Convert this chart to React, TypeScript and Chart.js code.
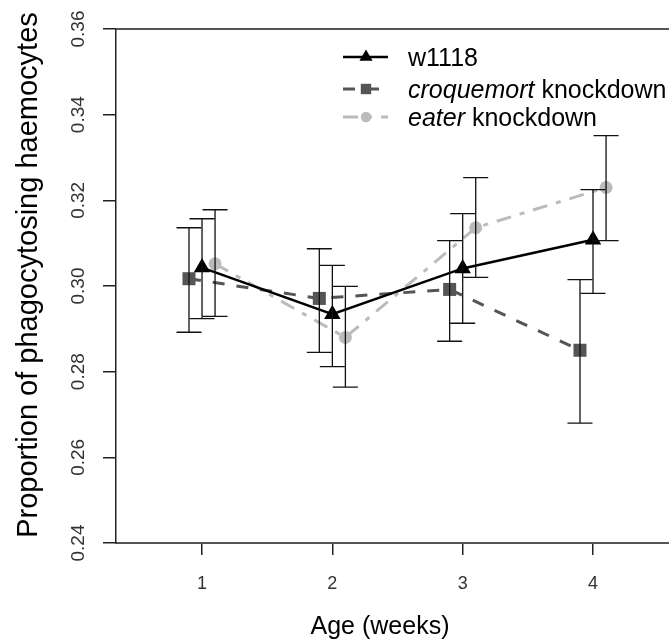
import React, { useEffect, useRef } from 'react';
import { Chart, registerables } from 'chart.js';

Chart.register(...registerables);

// ---- data ----
const weeks = [1, 2, 3, 4];
const xTickLabels = ['1', '2', '3', '4'];
const yTickValues = [0.24, 0.26, 0.28, 0.3, 0.32, 0.34, 0.36];
const yTickLabels = ['0.24', '0.26', '0.28', '0.30', '0.32', '0.34', '0.36'];

const w1118Mean = [0.3043, 0.2934, 0.3041, 0.3108];
const w1118Lo = [0.2924, 0.2812, 0.2913, 0.2983];
const w1118Hi = [0.3157, 0.3048, 0.3169, 0.3225];

const croqMean = [0.3017, 0.2971, 0.2992, 0.2850];
const croqLo = [0.2892, 0.2845, 0.2871, 0.2680];
const croqHi = [0.3136, 0.3087, 0.3106, 0.3015];

const eaterMean = [0.3052, 0.2880, 0.3136, 0.3230];
const eaterLo = [0.2929, 0.2764, 0.3020, 0.3106];
const eaterHi = [0.3178, 0.2999, 0.3253, 0.3351];

const xOffsets = [0, -0.1, 0.1];
const legendItalic = ['', 'croquemort', 'eater'];
const legendPlain = ['w1118', ' knockdown', ' knockdown'];

const xTitle = 'Age (weeks)';
const yTitle = 'Proportion of phagocytosing haemocytes';

const FONT = "'Liberation Sans', Arial, sans-serif";

const styles = [
  { color: '#000000', width: 2.5, dash: [] as number[], point: 'triangle', radius: 9.5 },
  { color: '#555555', width: 3, dash: [12, 12], point: 'rect', radius: 9.2 },
  { color: '#bbbbbb', width: 3, dash: [15, 9, 5, 9], point: 'circle', radius: 6.5 },
];

const series = [
  { mean: w1118Mean, lo: w1118Lo, hi: w1118Hi },
  { mean: croqMean, lo: croqLo, hi: croqHi },
  { mean: eaterMean, lo: eaterLo, hi: eaterHi },
];

function drawMarker(ctx: CanvasRenderingContext2D, kind: string, x: number, y: number, r: number, color: string) {
  ctx.save();
  ctx.fillStyle = color;
  ctx.beginPath();
  if (kind === 'triangle') {
    const a = -Math.PI / 2;
    for (let k = 0; k < 3; k++) {
      const ang = a + (k * 2 * Math.PI) / 3;
      const px = x + r * Math.cos(ang);
      const py = y + r * Math.sin(ang);
      if (k === 0) ctx.moveTo(px, py);
      else ctx.lineTo(px, py);
    }
    ctx.closePath();
  } else if (kind === 'rect') {
    const s = r * Math.SQRT1_2;
    ctx.rect(x - s, y - s, 2 * s, 2 * s);
  } else {
    ctx.arc(x, y, r, 0, Math.PI * 2);
  }
  ctx.fill();
  ctx.restore();
}

const framePlugin = {
  id: 'frameAndText',
  afterDraw(chart: any) {
    const { ctx, chartArea } = chart;
    ctx.save();
    // top frame line
    ctx.strokeStyle = '#555555';
    ctx.lineWidth = 2;
    ctx.beginPath();
    ctx.moveTo(chartArea.left, chartArea.top);
    ctx.lineTo(chartArea.right, chartArea.top);
    ctx.stroke();

    // axis titles
    ctx.fillStyle = '#000000';
    ctx.font = `25px ${FONT}`;
    ctx.textAlign = 'center';
    ctx.textBaseline = 'alphabetic';
    ctx.fillText(xTitle, 380, 634);

    ctx.save();
    ctx.translate(37, 275);
    ctx.rotate(-Math.PI / 2);
    ctx.font = `29px ${FONT}`;
    ctx.textAlign = 'center';
    ctx.textBaseline = 'alphabetic';
    ctx.fillText(yTitle, 0, 0);
    ctx.restore();

    // legend
    const rowY = [57, 89, 117];
    const x0 = 343;
    const x1 = 388;
    const xm = 366;
    const tx = 408;
    for (let i = 0; i < 3; i++) {
      const st = styles[i];
      ctx.save();
      ctx.strokeStyle = st.color;
      ctx.lineWidth = st.width;
      ctx.setLineDash(st.dash);
      ctx.beginPath();
      ctx.moveTo(x0, rowY[i]);
      ctx.lineTo(x1, rowY[i]);
      ctx.stroke();
      ctx.restore();
      drawMarker(ctx, st.point, xm, rowY[i], st.radius * 0.8, st.color);
      ctx.fillStyle = '#000000';
      ctx.textAlign = 'left';
      ctx.textBaseline = 'middle';
      let cx = tx;
      const ty = rowY[i] + 2;
      if (legendItalic[i]) {
        ctx.font = `italic 25px ${FONT}`;
        ctx.fillText(legendItalic[i], cx, ty);
        cx += ctx.measureText(legendItalic[i]).width;
      }
      ctx.font = `25px ${FONT}`;
      ctx.fillText(legendPlain[i], cx, ty);
    }
    ctx.restore();
  },
};

const errorBarPlugin = {
  id: 'errorBars',
  afterDatasetsDraw(chart: any) {
    const { ctx } = chart;
    const xs = chart.scales.x;
    const ys = chart.scales.y;
    ctx.save();
    ctx.strokeStyle = '#111111';
    ctx.lineWidth = 1.3;
    series.forEach((s, si) => {
      s.lo.forEach((lo, i) => {
        const px = xs.getPixelForValue(weeks[i] + xOffsets[si]);
        const yl = ys.getPixelForValue(lo);
        const yh = ys.getPixelForValue(s.hi[i]);
        const cap = 12.5;
        ctx.beginPath();
        ctx.moveTo(px, yl);
        ctx.lineTo(px, yh);
        ctx.moveTo(px - cap, yl);
        ctx.lineTo(px + cap, yl);
        ctx.moveTo(px - cap, yh);
        ctx.lineTo(px + cap, yh);
        ctx.stroke();
      });
    });
    ctx.restore();
  },
};

export default function App() {
  const ref = useRef<HTMLCanvasElement | null>(null);

  useEffect(() => {
    if (!ref.current) return;
    const datasets = series.map((s, si) => ({
      label: legendItalic[si] + legendPlain[si],
      data: s.mean.map((v, i) => ({ x: weeks[i] + xOffsets[si], y: v })),
      borderColor: styles[si].color,
      backgroundColor: styles[si].color,
      borderWidth: styles[si].width,
      borderDash: styles[si].dash,
      pointStyle: styles[si].point,
      pointRadius: styles[si].radius,
      pointBorderWidth: 0,
      pointBackgroundColor: styles[si].color,
      pointBorderColor: styles[si].color,
      tension: 0,
      fill: false,
    }));

    const chart = new Chart(ref.current, {
      type: 'line',
      data: { datasets },
      options: {
        responsive: false,
        animation: false,
        layout: { autoPadding: false, padding: { top: 29, right: 0, left: 0, bottom: 0 } },
        plugins: {
          legend: { display: false },
          tooltip: { enabled: false },
          title: { display: false },
        },
        scales: {
          x: {
            type: 'linear',
            min: 0.34,
            max: 4.583,
            afterBuildTicks: (scale: any) => {
              scale.ticks = weeks.map((v) => ({ value: v }));
            },
            afterFit: (scale: any) => {
              scale.height = 99;
              scale.paddingLeft = 0;
              scale.paddingRight = 0;
            },
            ticks: {
              callback: (_v: any, i: number) => xTickLabels[i],
              font: { family: FONT, size: 18 },
              color: '#333333',
              padding: 18,
              maxRotation: 0,
              minRotation: 0,
            },
            grid: {
              display: true,
              drawOnChartArea: false,
              drawTicks: true,
              tickLength: 12,
              color: '#222222',
              lineWidth: 1.5,
            },
            border: { display: true, color: '#555555', width: 2 },
          },
          y: {
            type: 'linear',
            min: 0.24,
            max: 0.36,
            afterBuildTicks: (scale: any) => {
              scale.ticks = yTickValues.map((v) => ({ value: v }));
            },
            afterFit: (scale: any) => {
              scale.width = 116;
              scale.paddingTop = 0;
              scale.paddingBottom = 0;
            },
            ticks: {
              callback: (_v: any, i: number) => yTickLabels[i],
              font: { family: FONT, size: 19 },
              color: '#333333',
              padding: 6,
              minRotation: 90,
              maxRotation: 90,
              crossAlign: 'center',
            },
            grid: {
              display: true,
              drawOnChartArea: false,
              drawTicks: true,
              tickLength: 13,
              color: '#222222',
              lineWidth: 1.5,
            },
            border: { display: true, color: '#222222', width: 1.5 },
          },
        },
      },
      plugins: [errorBarPlugin, framePlugin],
    } as any);

    return () => chart.destroy();
  }, []);

  return (
    <div style={{ position: 'absolute', left: 0, top: 0, width: 669, height: 642, background: '#ffffff' }}>
      <canvas ref={ref} width={669} height={642} style={{ display: 'block' }} />
    </div>
  );
}
